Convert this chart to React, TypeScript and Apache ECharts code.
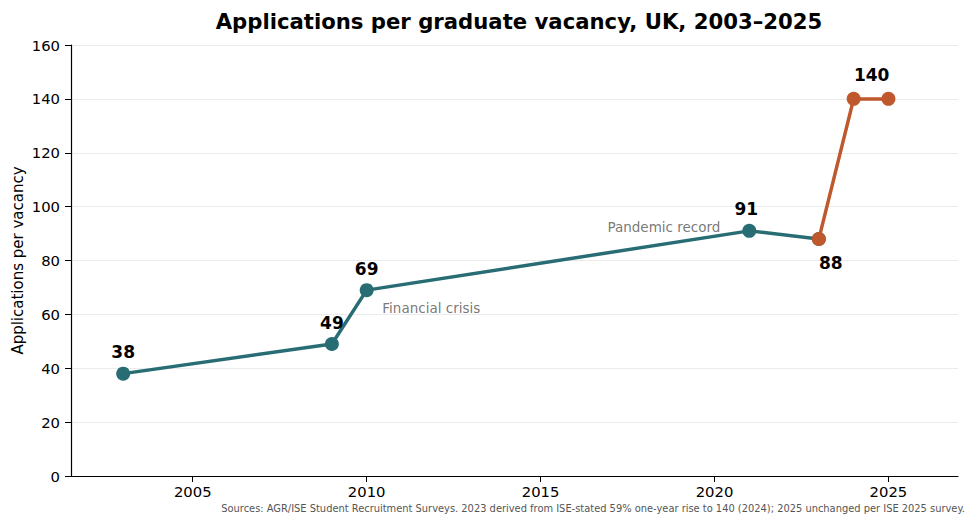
import React, { useEffect, useRef } from "react";
import * as echarts from "echarts";

const TEAL = "#286d74";
const ORANGE = "#bf582d";
const FONT = "DejaVu Sans";

const tealYears = [2003, 2009, 2010, 2021, 2023];
const tealValues = [38, 49, 69, 91, 88];
const orangeYears = [2023, 2024, 2025];
const orangeValues = [88, 140, 140];
const xTickValues = [2005, 2010, 2015, 2020, 2025];
const annotationTexts = ["Financial crisis", "Pandemic record"];
const annotationPoints = [
  [2010.45, 62.5],
  [2020.17, 92.4],
];

export default function App() {
  const ref = useRef<HTMLDivElement>(null);
  useEffect(() => {
    if (!ref.current) return;
    const chart = echarts.init(ref.current, null, { renderer: "svg" });
    const labelTop = (offset: number[] = [0, 0], distance = 6) => ({
      show: true,
      position: "top",
      distance,
      offset,
      fontFamily: FONT,
      fontWeight: "bold",
      fontSize: 17,
      color: "#000",
    });
    const tealData = tealYears.map((y, i) => {
      const d: any = { value: [y, tealValues[i]] };
      if (y === 2021) d.label = labelTop([-3, 0], 6);
      else if (y === 2023) d.label = { show: false };
      else d.label = labelTop([0, 0], 6);
      return d;
    });
    const orangeData = orangeYears.map((y, i) => {
      const d: any = { value: [y, orangeValues[i]] };
      if (y === 2023)
        d.label = { ...labelTop([12, 0], 9), position: "bottom" };
      else if (y === 2024) d.label = labelTop([18, 0], 8);
      else d.label = { show: false };
      return d;
    });
    chart.setOption({
      animation: false,
      backgroundColor: "#fff",
      title: {
        text: "Applications per graduate vacancy, UK, 2003–2025",
        left: 514,
        textAlign: "center",
        top: 6,
        textStyle: { fontFamily: FONT, fontWeight: "bold", fontSize: 21.2, color: "#000" },
      },
      grid: {
        left: 71,
        right: 17,
        top: 45,
        bottom: 49,
        containLabel: false,
        outerBoundsMode: "none",
      },
      xAxis: {
        type: "value",
        min: 2001.5,
        max: 2027,
        splitLine: { show: false },
        axisLine: { show: true, onZero: false, lineStyle: { color: "#000", width: 1.2 } },
        axisTick: {
          show: true,
          length: 6,
          lineStyle: { color: "#000", width: 1 },
          customValues: xTickValues,
        },
        axisLabel: {
          customValues: xTickValues,
          fontFamily: FONT,
          fontSize: 14.8,
          color: "#000",
          margin: 8,
          formatter: (v: number) => String(v),
        },
      },
      yAxis: {
        type: "value",
        min: 0,
        max: 160,
        interval: 20,
        name: "Applications per vacancy",
        nameLocation: "middle",
        nameGap: 46,
        nameMoveOverlap: false,
        nameTextStyle: { fontFamily: FONT, fontSize: 15, color: "#000" },
        axisLine: { show: true, lineStyle: { color: "#000", width: 1.2 } },
        axisTick: { show: true, length: 6, lineStyle: { color: "#000", width: 1 } },
        axisLabel: { fontFamily: FONT, fontSize: 14.8, color: "#000", margin: 11 },
        splitLine: { show: true, lineStyle: { color: "#ebebeb", width: 1 } },
      },
      series: [
        {
          type: "line",
          data: tealData,
          lineStyle: { color: TEAL, width: 3.5 },
          itemStyle: { color: TEAL },
          symbol: "circle",
          symbolSize: 14,
          showAllSymbol: true,
          z: 2,
        },
        {
          type: "line",
          data: orangeData,
          lineStyle: { color: ORANGE, width: 3.5 },
          itemStyle: { color: ORANGE },
          symbol: "circle",
          symbolSize: 14,
          z: 3,
        },
        {
          type: "scatter",
          symbolSize: 0,
          silent: true,
          data: annotationPoints.map((p, i) => ({
            value: p,
            name: annotationTexts[i],
            label: {
              show: true,
              position: "inside",
              align: i === 0 ? "left" : "right",
              verticalAlign: "middle",
              formatter: annotationTexts[i],
              fontFamily: FONT,
              fontSize: 13.5,
              color: "#555",
            },
          })),
          z: 4,
        },
      ],
      graphic: [
        {
          type: "text",
          right: 10,
          top: 503,
          style: {
            text:
              "Sources: AGR/ISE Student Recruitment Surveys. 2023 derived from ISE-stated 59% one-year rise to 140 (2024); 2025 unchanged per ISE 2025 survey.",
            fontFamily: FONT,
            fontSize: 9.9,
            fill: "#555",
          },
        },
      ],
    });
    return () => chart.dispose();
  }, []);
  return <div ref={ref} style={{ width: 975, height: 525, position: "absolute", left: 0, top: 0 }} />;
}
